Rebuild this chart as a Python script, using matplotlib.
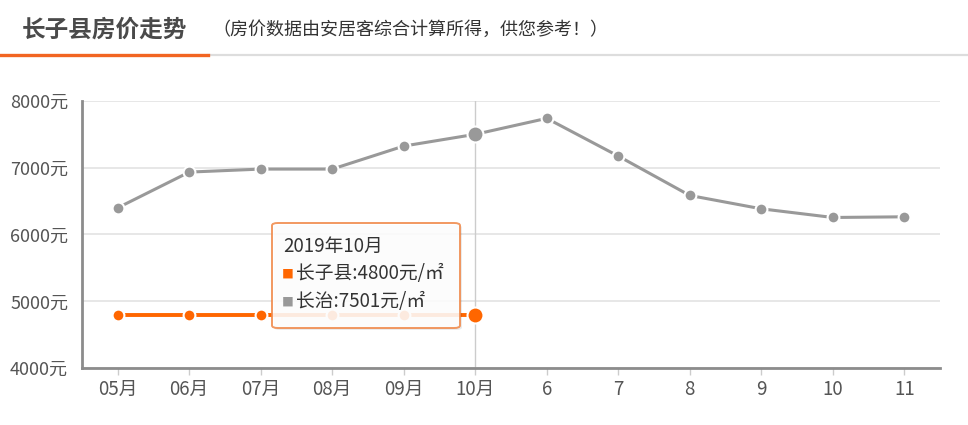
import matplotlib
matplotlib.use("Agg")
import matplotlib.pyplot as plt
from matplotlib.lines import Line2D
from matplotlib.patches import FancyBboxPatch
import numpy as np

plt.rcParams['font.family'] = ['Noto Sans CJK SC', 'DejaVu Sans']

months = ['05月', '06月', '07月', '08月', '09月', '10月', '6', '7', '8', '9', '10', '11']
changzi = [4800, 4800, 4800, 4800, 4800, 4800]
changzhi = [6400, 6935, 6980, 6980, 7325, 7501, 7740, 7175, 6585, 6385, 6255, 6265]
yticks = [4000, 5000, 6000, 7000, 8000]
hover = 5

ORANGE = '#ff6600'
GRAY = '#999999'

fig = plt.figure(figsize=(9.68, 4.25), dpi=100)
fig.patch.set_facecolor('white')

# header
fig.text(22/968, 1 - 30/425, '长子县房价走势', fontsize=17, fontweight='bold',
         color='#4a4a4a', va='center', ha='left')
fig.text(212/968, 1 - 30/425, '（房价数据由安居客综合计算所得，供您参考！）', fontsize=13,
         color='#333333', va='center', ha='left')
fig.add_artist(Line2D([208/968, 1], [1 - 54.5/425] * 2, color='#dddddd', lw=1.6))
fig.add_artist(Line2D([0, 208/968], [1 - 54.5/425] * 2, color='#f26522', lw=2.4))

ax = fig.add_axes([82/968, 57/425, 858/968, 267/425])
x = np.arange(len(months))

ax.set_xlim(-0.5, len(months) - 0.5)
ax.set_ylim(4000, 8000)
ax.set_yticks(yticks)
ax.set_yticklabels(['%d元' % v for v in yticks], fontsize=13, color='#555555')
ax.set_xticks(x)
ax.set_xticklabels(months, fontsize=13.5, color='#555555')
ax.tick_params(axis='y', length=0, pad=10)
ax.tick_params(axis='x', length=5, width=1, color='#cccccc', pad=3)
ax.grid(axis='y', color='#e3e3e3', lw=1.2)
ax.set_axisbelow(True)
for s in ['top', 'right']:
    ax.spines[s].set_visible(False)
for s in ['left', 'bottom']:
    ax.spines[s].set_color('#8c8c8c')
    ax.spines[s].set_linewidth(2)

# crosshair at hovered month
ax.axvline(hover, color='#cccccc', lw=1, zorder=1)

xc = x[:len(changzi)]
ax.plot(x, changzhi, color=GRAY, lw=2.2, marker='o', ms=8.5, mfc=GRAY,
        mec='white', mew=1.5, zorder=3)
ax.plot(xc, changzi, color=ORANGE, lw=2.8, marker='o', ms=8.5, mfc=ORANGE,
        mec='white', mew=1.5, zorder=3)
ax.plot([hover], [changzhi[hover]], 'o', ms=11.5, color=GRAY, mec='white', mew=1.5, zorder=4)
ax.plot([hover], [changzi[hover]], 'o', ms=11.5, color=ORANGE, mec='white', mew=1.5, zorder=4)

# tooltip
bx, by, bw, bh = 272/968, 1 - 328/425, 188/968, 105/425
shadow = FancyBboxPatch((bx + 2/968, by - 2/425), bw, bh, boxstyle='round,pad=0,rounding_size=0.006',
                        transform=fig.transFigure, fc='#000000', ec='none', alpha=0.08, zorder=5)
box = FancyBboxPatch((bx, by), bw, bh, boxstyle='round,pad=0,rounding_size=0.006',
                     transform=fig.transFigure, fc='white', ec='#f08a4b', lw=1.4, alpha=0.88, zorder=6)
fig.add_artist(shadow)
fig.add_artist(box)
fig.text(283/968, 1 - 246/425, '2019年%s' % months[hover], fontsize=13.5, color='#333333',
         va='center', ha='left', zorder=7)
rows = [('长子县', changzi[hover], ORANGE), ('长治', changzhi[hover], GRAY)]
for i, (name, val, c) in enumerate(rows):
    yy = 1 - (274 + 28 * i) / 425
    fig.text(282/968, yy, '■', fontsize=8.5, color=c, va='center', ha='left', zorder=7)
    fig.text(296/968, yy, '%s:%d元/㎡' % (name, val), fontsize=13.5, color='#333333',
             va='center', ha='left', zorder=7)

fig.savefig('out.png', dpi=100, facecolor='white')
